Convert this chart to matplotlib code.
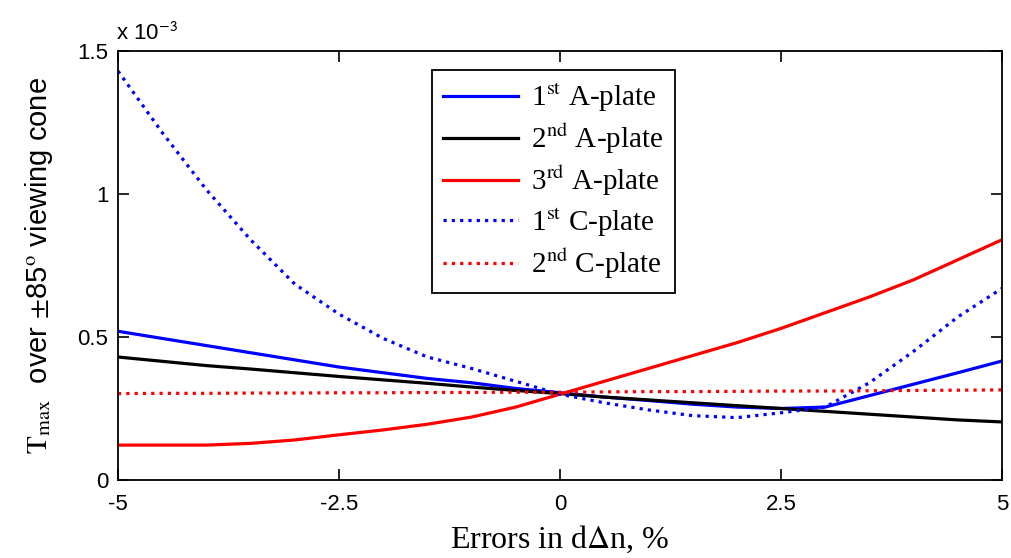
import numpy as np
import matplotlib
matplotlib.use("Agg")
import matplotlib.pyplot as plt

plt.rcParams['mathtext.fontset'] = 'stix'

# ===================== data (x 1e-3) =====================
err = [-5, -4.5, -4, -3.5, -3, -2.5, -2, -1.5, -1, -0.5, 0,
       0.5, 1, 1.5, 2, 2.5, 3, 3.5, 4, 4.5, 5]

a1 = [0.52, 0.495, 0.47, 0.445, 0.42, 0.395, 0.375, 0.355, 0.34, 0.32, 0.305,
      0.29, 0.278, 0.265, 0.255, 0.25, 0.255, 0.295, 0.335, 0.375, 0.416]
a2 = [0.43, 0.415, 0.40, 0.388, 0.375, 0.362, 0.35, 0.338, 0.325, 0.313, 0.302,
      0.29, 0.28, 0.27, 0.26, 0.25, 0.24, 0.23, 0.22, 0.21, 0.203]
a3 = [0.122, 0.122, 0.122, 0.128, 0.14, 0.158, 0.175, 0.195, 0.22, 0.255, 0.30,
      0.345, 0.39, 0.435, 0.48, 0.53, 0.585, 0.64, 0.70, 0.77, 0.84]
c1 = [1.43, 1.215, 1.015, 0.84, 0.685, 0.58, 0.495, 0.43, 0.39, 0.345, 0.30,
      0.27, 0.245, 0.225, 0.218, 0.235, 0.255, 0.34, 0.45, 0.57, 0.67]
c2 = [0.302, 0.303, 0.303, 0.304, 0.304, 0.305, 0.305, 0.306, 0.306, 0.307, 0.307,
      0.308, 0.309, 0.309, 0.310, 0.311, 0.311, 0.312, 0.313, 0.314, 0.315]

labels = [r'1$^{\rm st}$ A-plate', r'2$^{\rm nd}$ A-plate', r'3$^{\rm rd}$ A-plate',
          r'1$^{\rm st}$ C-plate', r'2$^{\rm nd}$ C-plate']
x_ticks = [-5, -2.5, 0, 2.5, 5]
x_ticklabels = ['-5', '-2.5', '0', '2.5', '5']
y_ticks = [0, 0.5e-3, 1e-3, 1.5e-3]
y_ticklabels = ['0', '0.5', '1', '1.5']

# ===================== plot =====================
fig = plt.figure(figsize=(10.11, 5.58), dpi=100)
ax = fig.add_axes([0.1167, 0.1398, 0.8744, 0.7688])

x = np.array(err)
sc = 1e-3
dots = (0, (1, 1.6))
ax.plot(x, np.array(a1) * sc, color='#0000ff', lw=2.3, label=labels[0])
ax.plot(x, np.array(a2) * sc, color='black', lw=2.3, label=labels[1])
ax.plot(x, np.array(a3) * sc, color='#ff0000', lw=2.3, label=labels[2])
ax.plot(x, np.array(c1) * sc, color='#0000ff', lw=2.3, ls=dots, label=labels[3])
ax.plot(x, np.array(c2) * sc, color='#ff0000', lw=2.3, ls=dots, label=labels[4])

ax.set_xlim(-5, 5)
ax.set_ylim(0, 1.5e-3)
ax.set_xticks(x_ticks)
ax.set_xticklabels(x_ticklabels, fontfamily='Liberation Sans', fontsize=16)
ax.set_yticks(y_ticks)
ax.set_yticklabels(y_ticklabels, fontfamily='Liberation Sans', fontsize=16)
ax.tick_params(direction='in', top=True, right=True, length=8, width=1.2)
ax.tick_params(axis='x', pad=10)
ax.tick_params(axis='y', pad=7)
for s in ax.spines.values():
    s.set_linewidth(1.3)

ax.text(-0.002, 1.015, r'x 10$^{\mathsf{-3}}$', transform=ax.transAxes,
        fontfamily='Liberation Sans', fontsize=16, ha='left', va='bottom')

ax.set_xlabel(r'Errors in d$\Delta$n, %', fontfamily='Liberation Serif', fontsize=23, labelpad=6)
ax.set_ylabel(r'$\mathrm{T}_{\mathrm{max}}$  over $\pm$85$^{\mathrm{o}}$ viewing cone',
              fontfamily='Liberation Sans', fontsize=21, labelpad=16)

leg = ax.legend(loc='upper left', bbox_to_anchor=(0.355, 0.956), borderaxespad=0,
                prop={'family': 'Liberation Serif', 'size': 21},
                frameon=True, fancybox=False, edgecolor='black', framealpha=1,
                handlelength=2.55, handletextpad=0.45, labelspacing=0.27,
                borderpad=0.4)
leg.get_frame().set_linewidth(1.3)

fig.savefig('out.png', dpi=100)
